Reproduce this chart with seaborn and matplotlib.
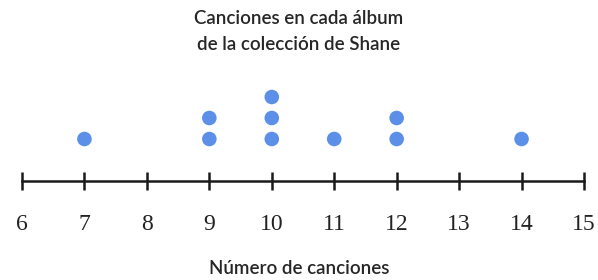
import pandas as pd
import matplotlib
matplotlib.use('Agg')
import matplotlib.pyplot as plt
import seaborn as sns

# datos: número de canciones de cada álbum
canciones = [7, 9, 9, 10, 10, 10, 11, 12, 12, 14]
ticks = list(range(6, 16))
titulo = "Canciones en cada álbum\nde la colección de Shane"
xlabel = "Número de canciones"

df = pd.DataFrame({"canciones": canciones})
df["nivel"] = df.groupby("canciones").cumcount() + 1

sns.set_style("white")
fig = plt.figure(figsize=(5.98, 2.8), dpi=100)
ax = fig.add_axes([22 / 598, 1 - 181 / 280, 562 / 598, 94.5 / 280])

sns.scatterplot(data=df, x="canciones", y="nivel", ax=ax, s=110,
                color="#5b8fe8", edgecolor="none", clip_on=False, legend=False)

ax.set_xlim(6, 15)
ax.set_ylim(-1, 3.5)
ax.set_xticks(ticks)
ax.set_yticks([])
ax.set_xlabel("")
ax.set_ylabel("")
for s in ["top", "left", "right"]:
    ax.spines[s].set_visible(False)
ax.spines["bottom"].set_linewidth(1.8)
ax.spines["bottom"].set_color("#1a1a1a")
ax.tick_params(axis="x", bottom=True, direction="inout", length=13, width=1.8,
               color="#1a1a1a", pad=17, labelcolor="#222222")
ax.set_xticklabels([str(t) for t in ticks])
for lab in ax.get_xticklabels():
    lab.set_fontfamily("Liberation Serif")
    lab.set_fontsize(17)

fig.text(0.5, 1 - 19 / 280, titulo.split("\n")[0], ha="center", va="center",
         family="Lato", fontsize=13.5, color="#262626", weight="semibold")
fig.text(0.5, 1 - 45 / 280, titulo.split("\n")[1], ha="center", va="center",
         family="Lato", fontsize=13.5, color="#262626", weight="semibold")
fig.text(0.5, 1 - 268 / 280, xlabel, ha="center", va="center",
         family="Lato", fontsize=13.5, color="#262626", weight="semibold")

fig.savefig("out.png", dpi=100)
